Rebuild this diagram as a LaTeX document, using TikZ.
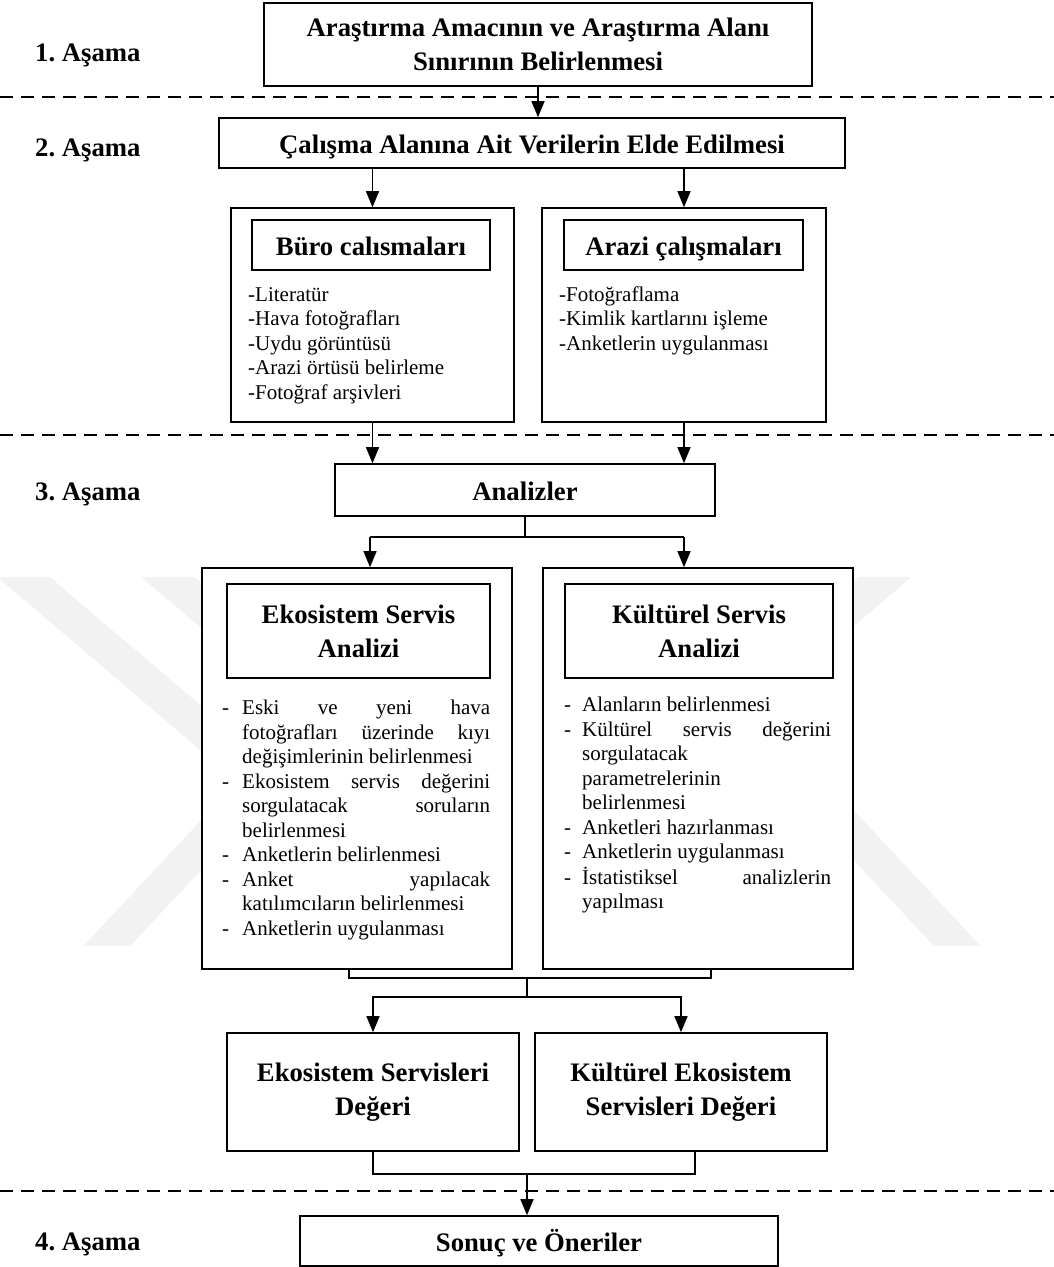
\documentclass[tikz,border=0pt]{standalone}
\usepackage{fontspec}
\setmainfont{Liberation Serif}
\usetikzlibrary{arrows.meta}
\frenchspacing
\newcommand\TitleFnt{\fontsize{26.7}{34}\selectfont\bfseries}
\newcommand\BodyFnt{\fontsize{21}{24.5}\selectfont}
\newcommand\Itm[2]{\par\noindent\hangindent=#1\hangafter=1\makebox[#1][l]{\strut-}#2\par}
\newcommand\JustSetup{\tolerance=10000\hyphenpenalty=10000\exhyphenpenalty=10000\parindent=0pt\parskip=0pt}
\begin{document}
\begin{tikzpicture}[x=1pt,y=-1pt,
  box/.style={draw, line width=1.6pt, fill=white, inner sep=0pt, align=center, font=\TitleFnt},
  one/.style={text height=21pt, text depth=1pt},
  arr/.style={-{Triangle[length=16pt,width=13pt]}, line width=1.4pt},
  conn/.style={line width=1.4pt},
  sep/.style={line width=1.8pt, dash pattern=on 13pt off 8pt},
  lbl/.style={anchor=west, font=\TitleFnt, inner sep=0pt},
  lst/.style={anchor=north west, inner sep=0pt, font=\BodyFnt, align=left},
  jst/.style={anchor=north west, inner sep=0pt, font=\BodyFnt, align=justify},
  wm/.style={line width=34pt, draw=black!5, line join=miter}]

\fill[white] (0,0) rectangle (1054,1267);
\useasboundingbox (0,0) rectangle (1054,1267);

% faint watermark
\begin{scope}
  \clip (0,577) rectangle (1054,945);
  \draw[wm] (-20,540) -- (262,780) -- (75,980);
  \draw[wm] (124,540) -- (406,780) -- (219,980);
  \draw[wm] (929,540) -- (733,706) -- (989,980);
\end{scope}

% stage separators
\coordinate (d1l) at (0,97);   \coordinate (d1r) at (1054,97);
\coordinate (d2l) at (0,435);  \coordinate (d2r) at (1054,435);
\coordinate (d3l) at (0,1191); \coordinate (d3r) at (1054,1191);
\draw[sep] (d1l) -- (d1r);
\draw[sep] (d2l) -- (d2r);
\draw[sep] (d3l) -- (d3r);

% stage labels
\node[lbl] (l1) at (35,55) {1. Aşama};
\node[lbl] (l2) at (35,150) {2. Aşama};
\node[lbl] (l3) at (35,494) {3. Aşama};
\node[lbl] (l4) at (35,1244) {4. Aşama};

% stage 1-2
\node[box, minimum width=548pt, minimum height=83pt] (b1) at (538,44.5)
  {Araştırma Amacının ve Araştırma Alanı\\Sınırının Belirlenmesi};
\node[box, one, minimum width=626pt, minimum height=50pt] (b2) at (532,143)
  {Çalışma Alanına Ait Verilerin Elde Edilmesi};

\node[box, minimum width=283pt, minimum height=214pt] (buro) at (372.5,315) {};
\node[box, one, minimum width=238pt, minimum height=50pt] (burot) at (371,245) {Büro calısmaları};
\node[box, minimum width=284pt, minimum height=214pt] (arazi) at (684,315) {};
\node[box, one, minimum width=239pt, minimum height=50pt] (arazit) at (683.5,245) {Arazi çalışmaları};

\node[lst] (burol) at (248,284)
  {\strut-Literatür\\-Hava fotoğrafları\\-Uydu görüntüsü\\-Arazi örtüsü belirleme\\-Fotoğraf arşivleri};
\node[lst] (arazil) at (559,284)
  {\strut-Fotoğraflama\\-Kimlik kartlarını işleme\\-Anketlerin uygulanması};

% stage 3
\node[box, one, minimum width=380pt, minimum height=52pt] (ana) at (525,490) {Analizler};

\node[box, minimum width=310pt, minimum height=401pt] (esa) at (357,768.5) {};
\node[box, minimum width=263pt, minimum height=94pt] (esat) at (358.5,631) {Ekosistem Servis\\Analizi};
\node[box, minimum width=310pt, minimum height=401pt] (ksa) at (698,768.5) {};
\node[box, minimum width=268pt, minimum height=94pt] (ksat) at (699,631) {Kültürel Servis\\Analizi};

\node[jst, text width=268pt] (esal) at (222,690) {\JustSetup
  \Itm{20pt}{Eski ve yeni hava\linebreak fotoğrafları üzerinde kıyı\linebreak değişimlerinin belirlenmesi}
  \Itm{20pt}{Ekosistem servis değerini\linebreak sorgulatacak soruların\linebreak belirlenmesi}
  \Itm{20pt}{Anketlerin belirlenmesi}
  \Itm{20pt}{Anket yapılacak\linebreak katılımcıların belirlenmesi}
  \Itm{20pt}{Anketlerin uygulanması}};
\node[jst, text width=267pt] (ksal) at (564,687) {\JustSetup
  \Itm{18pt}{Alanların belirlenmesi}
  \Itm{18pt}{Kültürel servis değerini\linebreak sorgulatacak\newline parametrelerinin\newline belirlenmesi}
  \Itm{18pt}{Anketleri hazırlanması}
  \Itm{18pt}{Anketlerin uygulanması}
  \Itm{18pt}{İstatistiksel analizlerin\linebreak yapılması}};

\node[box, minimum width=292pt, minimum height=118pt] (esd) at (373,1092) {Ekosistem Servisleri\\Değeri};
\node[box, minimum width=292pt, minimum height=118pt] (ksd) at (681,1092) {Kültürel Ekosistem\\Servisleri Değeri};

% stage 4
\node[box, one, minimum width=478pt, minimum height=50pt] (son) at (539,1241) {Sonuç ve Öneriler};

% connectors
\draw[arr] (b1.south) -- (b1.south |- b2.north);
\draw[arr] (b2.south -| buro.north) -- (buro.north);
\draw[arr] (b2.south -| arazi.north) -- (arazi.north);
\draw[arr] (buro.south) -- (buro.south |- ana.north);
\draw[arr] (arazi.south) -- (arazi.south |- ana.north);

\coordinate (s1) at (525,537);
\coordinate (ea) at (370,537);
\coordinate (ka) at (684,537);
\draw[conn] (ana.south) -- (ana.south |- s1);
\draw[conn] (ea) -- (ka);
\draw[arr] (ea) -- (ea |- esa.north);
\draw[arr] (ka) -- (ka |- ksa.north);

\coordinate (m1l) at (349,978);
\coordinate (m1r) at (711,978);
\coordinate (m1c) at (527,978);
\coordinate (m2) at (527,997);
\draw[conn] (m1l |- esa.south) -- (m1l) -- (m1r) -- (m1r |- ksa.south);
\draw[conn] (m1c) -- (m2);
\draw[arr] (m2) -| (esd.north);
\draw[arr] (m2) -| (ksd.north);

\coordinate (n1) at (373,1174);
\coordinate (n2) at (695,1174);
\coordinate (n3) at (527,1174);
\draw[conn] (esd.south) -- (n1) -- (n2) -- (n2 |- ksd.south);
\draw[arr] (n3) -- (n3 |- son.north);
\end{tikzpicture}
\end{document}
